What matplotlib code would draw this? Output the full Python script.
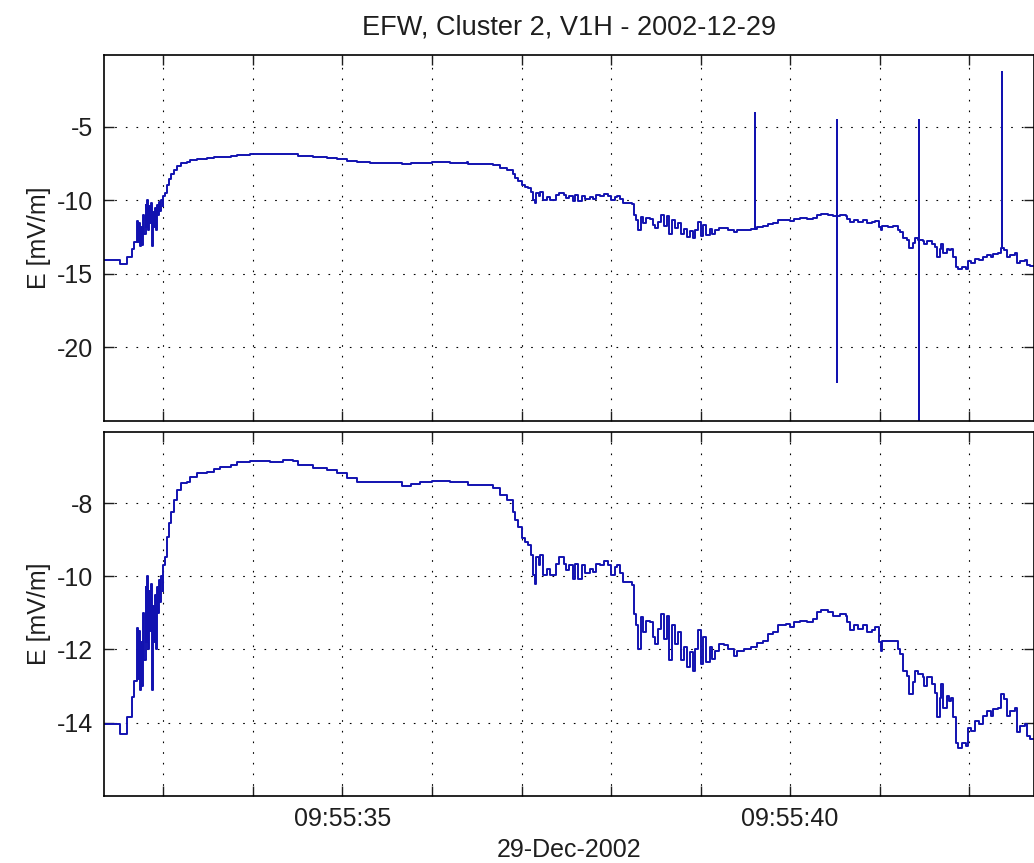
import numpy as np
import matplotlib
matplotlib.use('Agg')
import matplotlib.pyplot as plt
from matplotlib.ticker import FixedLocator, FuncFormatter

plt.rcParams['font.family'] = ['Liberation Sans', 'DejaVu Sans']
plt.rcParams['axes.unicode_minus'] = False

# seconds after 09:55:00 UT, 29 Dec 2002
t_sec = [32.34, 32.44, 32.52, 32.59, 32.65, 32.67, 32.70, 32.71, 32.72, 32.73,
         32.74, 32.75, 32.76, 32.77, 32.78, 32.80, 32.81, 32.82, 32.83, 32.84,
         32.85, 32.86, 32.87, 32.88, 32.90, 32.91, 32.92, 32.93, 32.94, 32.95,
         32.96, 32.97, 32.99, 33.00, 33.02, 33.04, 33.06, 33.09, 33.12, 33.15,
         33.20, 33.26, 33.30, 33.38, 33.49, 33.56, 33.63, 33.75, 33.82, 33.97,
         34.19, 34.34, 34.45, 34.50, 34.67, 34.83, 34.94, 35.05, 35.16, 35.31,
         35.61, 35.67, 35.76, 35.87, 36.00, 36.20, 36.39, 36.40, 36.62, 36.68,
         36.76, 36.84, 36.90, 36.93, 36.96, 37.01, 37.04, 37.07, 37.11, 37.13,
         37.15, 37.16, 37.19, 37.21, 37.24, 37.29, 37.32, 37.38, 37.42, 37.47,
         37.50, 37.53, 37.57, 37.60, 37.63, 37.68, 37.71, 37.76, 37.80, 37.83,
         37.88, 37.92, 37.97, 38.00, 38.04, 38.07, 38.10, 38.13, 38.19, 38.23,
         38.26, 38.28, 38.30, 38.33, 38.36, 38.39, 38.44, 38.47, 38.49, 38.53,
         38.56, 38.59, 38.62, 38.65, 38.68, 38.72, 38.75, 38.78, 38.82, 38.85,
         38.88, 38.92, 38.94, 38.97, 39.01, 39.03, 39.06, 39.10, 39.13, 39.16,
         39.21, 39.26, 39.31, 39.37, 39.41, 39.48, 39.56, 39.63, 39.70, 39.75,
         39.81, 39.87, 39.95, 40.00, 40.04, 40.11, 40.19, 40.26, 40.30, 40.34,
         40.42, 40.48, 40.56, 40.62, 40.64, 40.67, 40.71, 40.76, 40.82, 40.86,
         40.92, 40.95, 40.99, 41.01, 41.03, 41.09, 41.15, 41.20, 41.23, 41.26,
         41.31, 41.33, 41.37, 41.39, 41.43, 41.48, 41.50, 41.53, 41.59, 41.62,
         41.64, 41.67, 41.69, 41.71, 41.75, 41.78, 41.80, 41.82, 41.85, 41.88,
         41.92, 41.96, 41.99, 42.02, 42.07, 42.11, 42.16, 42.20, 42.24, 42.27,
         42.32, 42.36, 42.39, 42.42, 42.46, 42.51, 42.53, 42.57, 42.62, 42.65,
         42.68, 42.75]

# despiked field, mV/m
e_field = [-14.03, -14.03, -14.32, -13.86, -13.30, -12.85, -12.20, -11.40, -12.80, -11.50,
           -13.10, -11.80, -13.00, -11.00, -12.30, -10.30, -11.80, -10.00, -12.00, -10.40,
           -11.50, -10.20, -13.10, -10.80, -11.80, -10.50, -12.00, -10.30, -11.00, -10.10,
           -10.70, -10.00, -10.40, -9.70, -9.47, -8.92, -8.55, -8.23, -7.91, -7.63,
           -7.45, -7.41, -7.27, -7.18, -7.13, -7.07, -7.01, -6.95, -6.88, -6.83,
           -6.86, -6.81, -6.84, -6.95, -7.04, -7.08, -7.18, -7.31, -7.41, -7.43,
           -7.43, -7.52, -7.47, -7.43, -7.38, -7.43, -7.41, -7.50, -7.50, -7.59,
           -7.77, -7.91, -8.23, -8.46, -8.64, -8.96, -9.05, -9.15, -9.42, -9.97,
           -10.20, -9.47, -9.70, -9.42, -9.97, -9.79, -9.97, -9.65, -9.47, -9.65,
           -9.83, -9.70, -10.06, -9.65, -10.06, -9.70, -9.92, -9.79, -9.88, -9.65,
           -9.70, -9.58, -9.70, -9.97, -9.74, -9.70, -9.92, -10.15, -10.15, -10.24,
           -11.02, -11.34, -11.98, -11.11, -11.53, -11.21, -11.25, -11.66, -11.85, -11.43,
           -11.02, -11.71, -11.07, -12.30, -11.34, -11.85, -11.53, -12.30, -11.94, -12.49,
           -12.08, -12.58, -11.98, -11.48, -12.40, -11.66, -12.35, -11.94, -12.26, -12.03,
           -11.85, -11.89, -12.00, -12.17, -12.03, -11.98, -11.94, -11.83, -11.76, -11.57,
           -11.53, -11.32, -11.30, -11.39, -11.25, -11.22, -11.25, -11.16, -10.98, -10.93,
           -10.98, -11.07, -11.02, -11.07, -11.25, -11.48, -11.34, -11.43, -11.34, -11.53,
           -11.48, -11.39, -11.80, -12.03, -11.76, -11.78, -11.76, -11.98, -12.12, -12.58,
           -12.72, -13.22, -12.90, -12.58, -12.67, -12.76, -12.99, -12.76, -12.95, -13.18,
           -13.86, -13.33, -12.95, -13.59, -13.27, -13.40, -13.33, -13.86, -14.55, -14.69,
           -14.55, -14.64, -14.14, -14.23, -13.96, -14.05, -13.82, -13.68, -13.82, -13.63,
           -13.59, -13.22, -13.36, -13.82, -13.68, -13.59, -14.27, -14.09, -14.05, -14.37,
           -14.46, -14.41]

# spikes present in the raw V1H signal
spike_t = [39.61, 40.52, 41.44, 42.37]
spike_hi = [-4.05, -4.50, -4.50, -1.28]
spike_lo = [-11.85, -22.35, -26.0, -13.20]

line_col = '#1212b0'
txt_col = '#1e1e1e'


def add_spikes(t, e):
    t = list(t)
    e = list(e)
    for ts, hi, lo in sorted(zip(spike_t, spike_hi, spike_lo), reverse=True):
        i = int(np.searchsorted(t, ts))
        base = e[i - 1]
        t[i:i] = [ts, ts, ts, ts]
        e[i:i] = [base, hi, lo, base]
    return np.array(t), np.array(e)


t_raw, e_raw = add_spikes(t_sec, e_field)

fig = plt.figure(figsize=(10.34, 8.63), dpi=100)
ax1 = fig.add_axes([0.1009, 0.5122, 0.8987, 0.4241])
ax2 = fig.add_axes([0.1009, 0.0780, 0.8987, 0.4218])

ax1.plot(t_raw, e_raw, color=line_col, lw=1.4, drawstyle='steps-post')
ax2.plot(t_sec, e_field, color=line_col, lw=1.4, drawstyle='steps-post')

ax1.set_ylim(-25, -0.1)
ax1.set_yticks([-20, -15, -10, -5])
ax2.set_ylim(-16, -6.04)
ax2.set_yticks([-14, -12, -10, -8])


def fmt_time(v, pos):
    s = int(round(v))
    return '09:55:%02d' % s if s % 5 == 0 else ''


for ax in (ax1, ax2):
    ax.set_xlim(32.34, 42.72)
    ax.xaxis.set_major_locator(FixedLocator(np.arange(33, 43)))
    ax.grid(True, color='k', linestyle=(0, (1.5, 8.1)), linewidth=0.8)
    ax.tick_params(direction='in', length=7.5, width=1.0, top=True, right=True,
                   labelsize=18, colors=txt_col, pad=8)
    for sp in ax.spines.values():
        sp.set_linewidth(1.2)
    ax.set_ylabel('E [mV/m]', fontsize=18, color=txt_col, labelpad=4)

ax1.set_xticklabels([])
ax2.xaxis.set_major_formatter(FuncFormatter(fmt_time))
ax2.set_xlabel('29-Dec-2002', fontsize=18, color=txt_col, labelpad=5)
ax1.set_title('EFW, Cluster 2, V1H - 2002-12-29', fontsize=19.5, color=txt_col, pad=15)

fig.savefig('out.png', dpi=100)
